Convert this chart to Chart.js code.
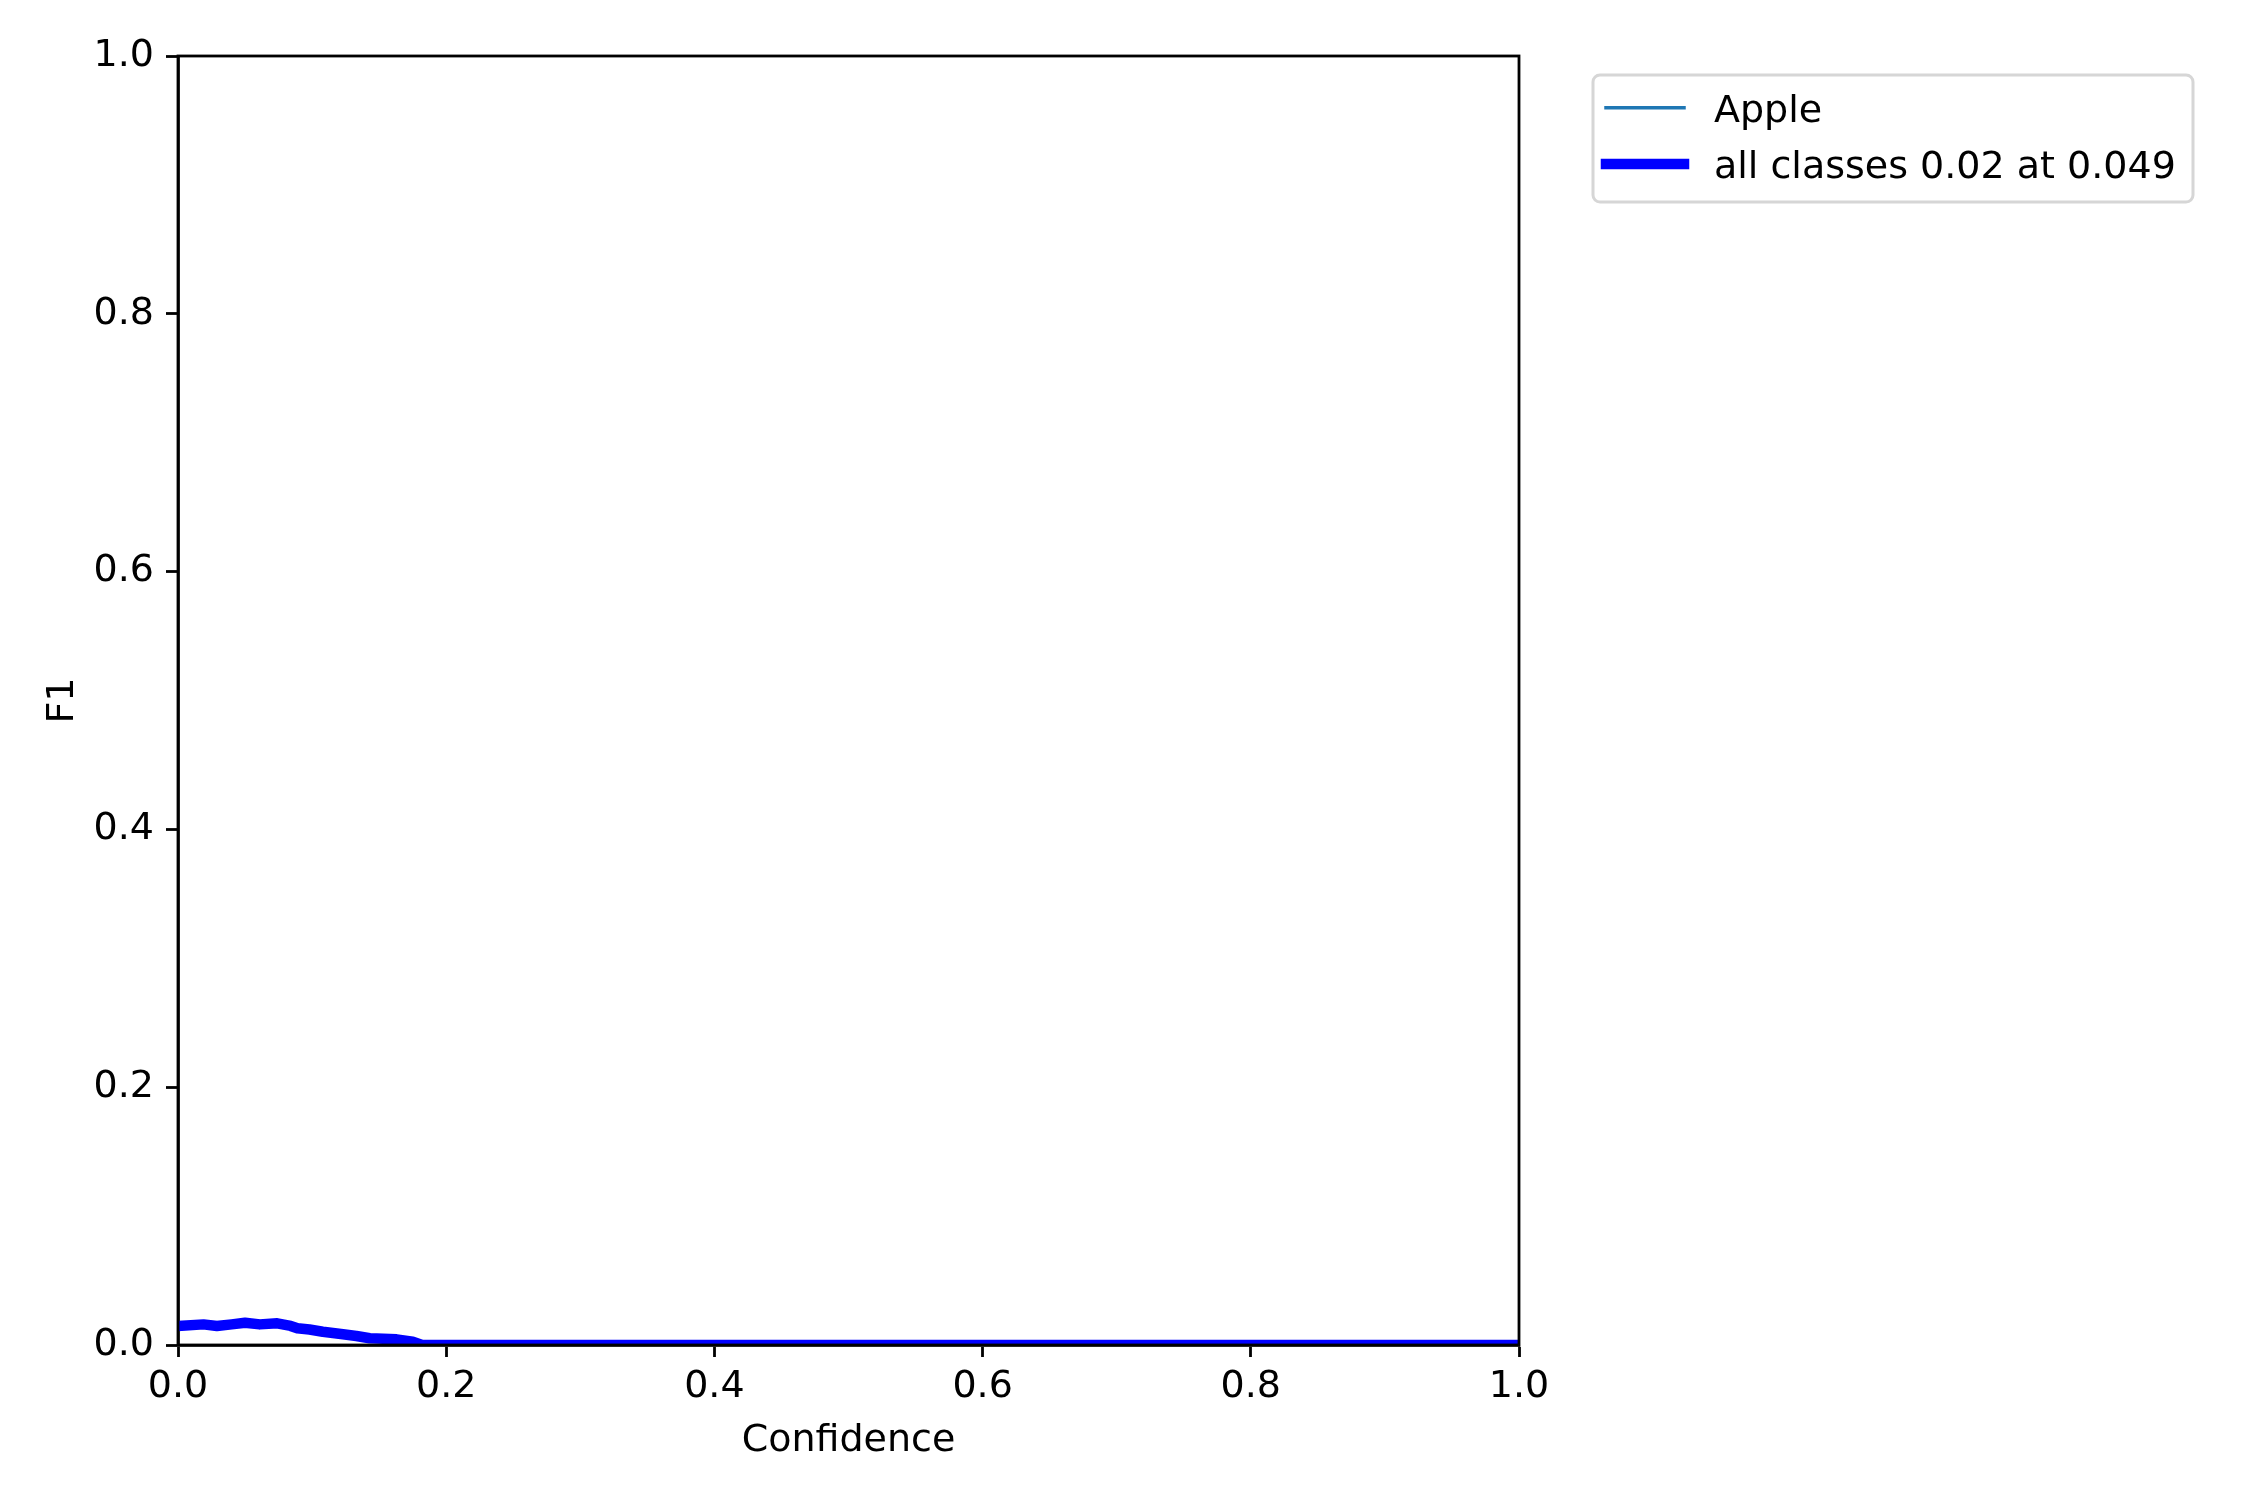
<!DOCTYPE html>
<html>
<head>
<meta charset="utf-8">
<script src="https://cdn.jsdelivr.net/npm/chart.js@4.4.1/dist/chart.umd.min.js"></script>
<style>
html,body{margin:0;padding:0;background:#fff;}
#wrap{position:relative;width:2250px;height:1500px;}
</style>
</head>
<body>
<div id="wrap"><canvas id="c" width="2250" height="1500"></canvas></div>
<script>
// Data
const confidence = [0.0, 0.019, 0.029, 0.040, 0.050, 0.061, 0.074, 0.084, 0.089, 0.098, 0.108, 0.123, 0.133, 0.143, 0.163, 0.175, 0.182, 0.3, 0.5, 0.7, 0.9, 1.0];
const allClassesF1 = [0.0148, 0.016, 0.0148, 0.016, 0.0173, 0.016, 0.0168, 0.0148, 0.013, 0.012, 0.0103, 0.0083, 0.007, 0.0052, 0.0044, 0.0026, 0.0, 0.0, 0.0, 0.0, 0.0, 0.0];
const appleF1 = allClassesF1.slice();
const xTicks = [0, 0.2, 0.4, 0.6, 0.8, 1.0];
const yTicks = [0, 0.2, 0.4, 0.6, 0.8, 1.0];
const legendLabels = ['Apple', 'all classes 0.02 at 0.049'];

const FONT = 'DejaVu Sans';
const FS = 38;
const L = 178, R = 1519, T = 56, B = 1345;

const toPts = (xs, ys) => xs.map((x, i) => ({x: x, y: ys[i]}));

const framePlugin = {
  id: 'frame',
  afterDatasetsDraw(chart) {
    const ctx = chart.ctx, a = chart.chartArea;
    ctx.save();
    ctx.strokeStyle = '#000';
    ctx.lineWidth = 2.8;
    ctx.strokeRect(a.left, a.top, a.right - a.left, a.bottom - a.top);
    ctx.restore();
  },
  afterDraw(chart) {
    const ctx = chart.ctx, a = chart.chartArea;
    ctx.save();
    ctx.fillStyle = '#000';
    ctx.font = FS + 'px "' + FONT + '"';
    ctx.textAlign = 'center';
    ctx.textBaseline = 'alphabetic';
    ctx.fillText('Confidence', (a.left + a.right) / 2, 1451);
    ctx.save();
    ctx.translate(73, (a.top + a.bottom) / 2);
    ctx.rotate(-Math.PI / 2);
    ctx.fillText('F1', 0, 0);
    ctx.restore();
    // legend
    const bx = 1593, by = 75, bw = 600, bh = 127, r = 7;
    ctx.beginPath();
    ctx.moveTo(bx + r, by);
    ctx.arcTo(bx + bw, by, bx + bw, by + bh, r);
    ctx.arcTo(bx + bw, by + bh, bx, by + bh, r);
    ctx.arcTo(bx, by + bh, bx, by, r);
    ctx.arcTo(bx, by, bx + bw, by, r);
    ctx.closePath();
    ctx.fillStyle = 'rgba(255,255,255,0.8)';
    ctx.fill();
    ctx.strokeStyle = '#d6d6d6';
    ctx.lineWidth = 3;
    ctx.stroke();
    const ds = chart.data.datasets;
    const rows = [107.7, 164];
    const bases = [121.7, 178.3];
    ds.forEach((d, i) => {
      ctx.beginPath();
      ctx.strokeStyle = d.borderColor;
      ctx.lineWidth = d.borderWidth;
      ctx.lineCap = 'square';
      ctx.moveTo(1606, rows[i]);
      ctx.lineTo(1684, rows[i]);
      ctx.stroke();
      ctx.fillStyle = '#000';
      ctx.textAlign = 'left';
      ctx.fillText(legendLabels[i], 1714, bases[i]);
    });
    ctx.restore();
  }
};

new Chart(document.getElementById('c'), {
  type: 'line',
  data: {
    datasets: [
      {label: legendLabels[0], data: toPts(confidence, appleF1), borderColor: '#1f77b4', borderWidth: 3.5, pointRadius: 0, tension: 0, clip: 0, order: 2},
      {label: legendLabels[1], data: toPts(confidence, allClassesF1), borderColor: '#0000ff', borderWidth: 10.5, pointRadius: 0, tension: 0, clip: 0, order: 1, borderJoinStyle: 'round'}
    ]
  },
  options: {
    responsive: false,
    animation: false,
    devicePixelRatio: 1,
    layout: {padding: {left: 0, top: T, right: 2250 - R, bottom: 0}},
    plugins: {legend: {display: false}, tooltip: {enabled: false}},
    scales: {
      x: {
        type: 'linear', min: 0, max: 1,
        afterFit(s) { s.height = 1500 - B; },
        afterBuildTicks(s) { s.ticks = xTicks.map(v => ({value: v})); },
        ticks: {color: '#000', font: {family: FONT, size: FS}, padding: 7, maxRotation: 0, autoSkip: false,
          callback: v => Number(v).toFixed(1)},
        grid: {display: true, drawOnChartArea: false, drawTicks: true, tickLength: 12, tickWidth: 2.8, color: '#000'},
        border: {display: true, color: '#000', width: 2.8}
      },
      y: {
        type: 'linear', min: 0, max: 1,
        afterFit(s) { s.width = L; },
        afterBuildTicks(s) { s.ticks = yTicks.map(v => ({value: v})); },
        ticks: {color: '#000', font: {family: FONT, size: FS}, padding: 12, autoSkip: false,
          callback: v => Number(v).toFixed(1)},
        grid: {display: true, drawOnChartArea: false, drawTicks: true, tickLength: 12, tickWidth: 2.8, color: '#000'},
        border: {display: true, color: '#000', width: 2.8}
      }
    }
  },
  plugins: [framePlugin]
});
</script>
</body>
</html>
